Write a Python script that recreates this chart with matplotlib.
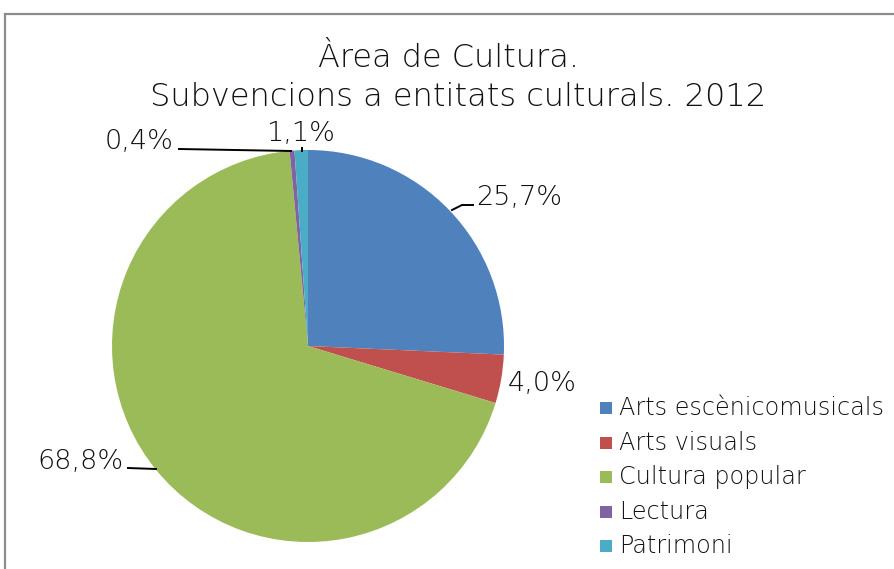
import matplotlib
matplotlib.use("Agg")
import matplotlib.pyplot as plt
from matplotlib.patches import Rectangle

# data
categories = ["Arts escènicomusicals", "Arts visuals", "Cultura popular",
              "Lectura", "Patrimoni"]
shares = [25.7, 4.0, 68.8, 0.4, 1.1]
colors = ["#4F81BD", "#C0504D", "#9BBB59", "#8064A2", "#4BACC6"]
pct_labels = ["25,7%", "4,0%", "68,8%", "0,4%", "1,1%"]

W, H = 894, 569
plt.rcParams["font.family"] = ["DejaVu Sans"]

fig = plt.figure(figsize=(W / 100, H / 100), dpi=100)

# chart frame (cropped on right and bottom)
fig.patches.append(Rectangle((5 / W, -0.05), 1.1, (H - 14) / H + 0.05,
                             transform=fig.transFigure, fill=False,
                             edgecolor="#8c8c8c", linewidth=1.6))

cx, cy, r = 308, 346, 196
ax = fig.add_axes([(cx - r) / W, (H - cy - r) / H, 2 * r / W, 2 * r / H])
wedges, _ = ax.pie(shares, colors=colors, startangle=90, counterclock=False,
                   radius=1.0, wedgeprops=dict(linewidth=0))
ax.set_xlim(-1, 1)
ax.set_ylim(-1, 1)
ax.set_aspect("equal")
ax.axis("off")


def d(px, py):
    return ((px - cx) / r, (cy - py) / r)


txt_col = "#111111"
lab_style = dict(fontsize=19.5, color=txt_col, fontweight="light")
line_style = dict(color="black", lw=1.4, clip_on=False)

# 25,7%
ax.plot(*zip(d(452, 210), d(462, 205), d(473, 205)), **line_style)
ax.text(*d(476, 197), pct_labels[0], ha="left", va="center", **lab_style)
# 4,0%
ax.text(*d(508, 383), pct_labels[1], ha="left", va="center", **lab_style)
# 68,8%
ax.plot(*zip(d(128, 468), d(156, 469)), **line_style)
ax.text(*d(123, 462), pct_labels[2], ha="right", va="center", **lab_style)
# 0,4%
ax.plot(*zip(d(179, 149), d(291, 151)), **line_style)
ax.text(*d(173, 142), pct_labels[3], ha="right", va="center", **lab_style)
# 1,1%
ax.plot(*zip(d(302, 148), d(302, 151)), **line_style)
ax.text(*d(300, 134), pct_labels[4], ha="center", va="center", **lab_style)

fig.text(448 / W, 1 - 58 / H, "Àrea de Cultura.", ha="center", va="center",
         fontsize=23, color=txt_col, fontweight="light")
fig.text(458 / W, 1 - 97 / H, "Subvencions a entitats culturals. 2012",
         ha="center", va="center", fontsize=23, color=txt_col,
         fontweight="light")

# legend
for i, (name, col) in enumerate(zip(categories, colors)):
    y = 408 + i * 34.6
    fig.patches.append(Rectangle((600 / W, 1 - (y + 6) / H), 12 / W, 12 / H,
                                 transform=fig.transFigure, facecolor=col,
                                 edgecolor="none"))
    fig.text(619 / W, 1 - y / H, name, ha="left", va="center",
             fontsize=17.2, color=txt_col, fontweight="light")

fig.savefig("out.png", dpi=100)
